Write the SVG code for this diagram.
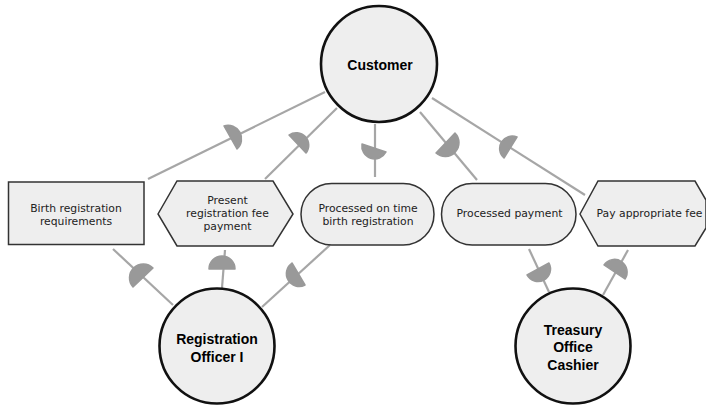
<svg xmlns="http://www.w3.org/2000/svg" width="706" height="406" viewBox="0 0 706 406">
<style>
.actor{fill:#eeeeee;stroke:#111;stroke-width:2.6}
.box{fill:#eeeeee;stroke:#333;stroke-width:1.5}
.l{fill:#222;font-family:"DejaVu Sans",sans-serif;font-size:10.8px;text-anchor:middle}
.b{fill:#000;font-family:"Liberation Sans",Arial,sans-serif;font-size:14px;font-weight:bold;text-anchor:middle}
.c{stroke:#a6a6a6;stroke-width:2.2;fill:none}
.h{fill:#999;stroke:#999;stroke-width:1.5;stroke-linejoin:round}
</style>
<rect width="706" height="406" fill="#fff"/>
<g id="connectors">
<path class="c" d="M325,92L148,179"/><path class="h" d="M224,126A13.5,13.5 0 0 1 237,149Z"/>
<path class="c" d="M337,108L265,179"/><path class="h" d="M289,135A12.5,12.5 0 0 1 306,153Z"/>
<path class="c" d="M375,124V177"/><path class="h" d="M362,144A12.8,12.8 0 0 0 386,152Z"/>
<path class="c" d="M420,112L477,180"/><path class="h" d="M455,133A13.8,13.8 0 0 1 436,153Z"/>
<path class="c" d="M432,98L585,195"/><path class="h" d="M517,137A12.5,12.5 0 0 0 504,158Z"/>
<path class="c" d="M113,249L173,305"/><path class="h" d="M153,268A13.8,13.8 0 0 0 133,287Z"/>
<path class="c" d="M225,250L222,288"/><path class="h" d="M209,269A13,13 0 0 1 235,269Z"/>
<path class="c" d="M330,245L262,307"/><path class="h" d="M292,263A12.8,12.8 0 0 0 305,285Z"/>
<path class="c" d="M529,249L549,292"/><path class="h" d="M549,263A12.5,12.5 0 0 1 527,275Z"/>
<path class="c" d="M628,250L603,295"/><path class="h" d="M604,265A12.6,12.6 0 0 1 625,279Z"/>
</g>
<g id="customer"><circle class="actor" cx="379" cy="64" r="58"/><text class="b" x="380" y="70">Customer</text></g>
<g id="registration-officer"><circle class="actor" cx="217" cy="346" r="57.5"/><text class="b" x="217" y="344">Registration</text><text class="b" x="217" y="362">Officer I</text></g>
<g id="treasury-cashier"><circle class="actor" cx="573" cy="346" r="57.5"/><text class="b" x="573" y="335">Treasury</text><text class="b" x="573" y="352">Office</text><text class="b" x="573" y="370">Cashier</text></g>
<g id="birth-requirements"><rect class="box" x="8.500" y="182" width="135.500" height="62.500"/><text class="l" x="76" y="212">Birth registration</text><text class="l" x="76" y="225">requirements</text></g>
<g id="present-fee"><polygon class="box" points="158,214 177,181 273,181 293,214 273,246 177,246"/><text class="l" x="227.500" y="204">Present</text><text class="l" x="227.500" y="217">registration fee</text><text class="l" x="227.500" y="230">payment</text></g>
<g id="processed-on-time"><rect class="box" x="301" y="183.500" width="133" height="61.500" rx="30.700"/><text class="l" x="368" y="212">Processed on time</text><text class="l" x="368" y="225">birth registration</text></g>
<g id="processed-payment"><rect class="box" x="441.500" y="183.500" width="134.500" height="61.500" rx="30.700"/><text class="l" x="509.500" y="217">Processed payment</text></g>
<g id="pay-fee"><polygon class="box" points="580,214 598,181 695,181 706,200 706,228 695,246 598,246"/><text class="l" x="649.500" y="217">Pay appropriate fee</text></g>
</svg>
